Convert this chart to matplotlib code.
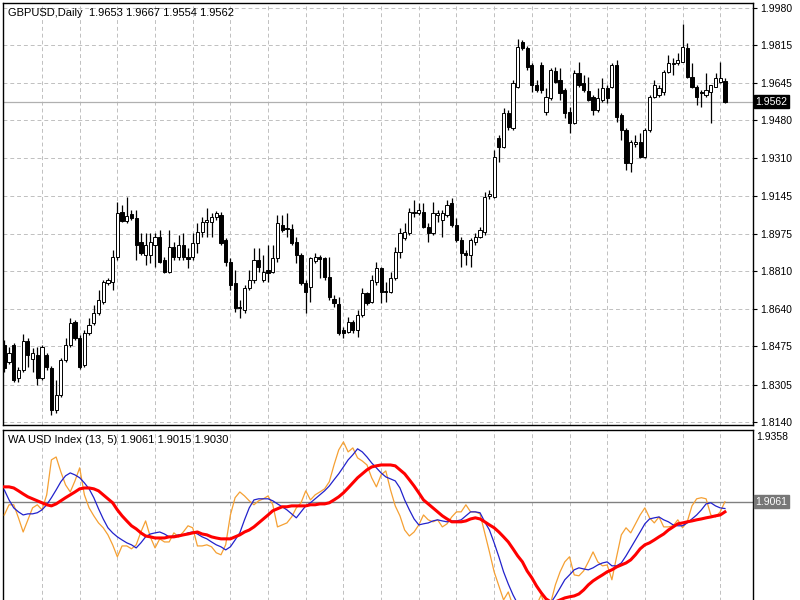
import numpy as np
import matplotlib
matplotlib.use('Agg')
import matplotlib.pyplot as plt
import matplotlib.transforms as mtransforms

plt.rcParams['font.family'] = ['Liberation Sans', 'DejaVu Sans']

# GBPUSD daily candles
opens = [
    1.8481, 1.8406, 1.8481, 1.8335, 1.8370, 1.8499, 1.8419, 1.8437, 1.8335, 1.8437,
    1.8379, 1.8193, 1.8259, 1.8415, 1.8481, 1.8583, 1.8512, 1.8392, 1.8535, 1.8579,
    1.8623, 1.8672, 1.8756, 1.8761, 1.8872, 1.9072, 1.9032, 1.9063, 1.9045, 1.8938,
    1.8881, 1.8881, 1.8925, 1.8961, 1.8859, 1.8806, 1.8916, 1.8872, 1.8925, 1.8872,
    1.8872, 1.8934, 1.8983, 1.9027, 1.9027, 1.9050, 1.9058, 1.8947, 1.8850, 1.8756,
    1.8650, 1.8637, 1.8734, 1.8770, 1.8859, 1.8770, 1.8815, 1.8806, 1.8868, 1.9014,
    1.9001, 1.8996, 1.8938, 1.8881, 1.8756, 1.8739, 1.8854, 1.8872, 1.8868, 1.8783,
    1.8685, 1.8663, 1.8548, 1.8539, 1.8583, 1.8548, 1.8614, 1.8712, 1.8672, 1.8761,
    1.8823, 1.8721, 1.8717, 1.8779, 1.8894, 1.8956, 1.8978, 1.9067, 1.9067, 1.9072,
    1.9005, 1.8978, 1.9058, 1.9036, 1.9058, 1.9112, 1.9014, 1.8947, 1.8890, 1.8881,
    1.8938, 1.8961, 1.8983, 1.9143, 1.9138, 1.9400, 1.9360, 1.9511, 1.9445, 1.9627,
    1.9826, 1.9800, 1.9724, 1.9636, 1.9724, 1.9516, 1.9578, 1.9698, 1.9658, 1.9613,
    1.9516, 1.9467, 1.9689, 1.9644, 1.9609, 1.9582, 1.9525, 1.9569, 1.9622, 1.9627,
    1.9724, 1.9502, 1.9436, 1.9289, 1.9374, 1.9382, 1.9316, 1.9436, 1.9582, 1.9591,
    1.9605, 1.9693, 1.9729, 1.9733, 1.9738, 1.9800, 1.9671, 1.9627, 1.9605, 1.9591,
    1.9605, 1.9627, 1.9649, 1.9653]
highs = [
    1.8503, 1.8472, 1.8490, 1.8383, 1.8530, 1.8512, 1.8468, 1.8472, 1.8481, 1.8446,
    1.8388, 1.8326, 1.8423, 1.8512, 1.8601, 1.8592, 1.8526, 1.8548, 1.8601, 1.8659,
    1.8725, 1.8770, 1.8779, 1.8903, 1.9116, 1.9103, 1.9138, 1.9081, 1.9081, 1.8978,
    1.8978, 1.8978, 1.8978, 1.8992, 1.8872, 1.8992, 1.8938, 1.8969, 1.8978, 1.8912,
    1.8978, 1.9023, 1.9050, 1.9089, 1.9067, 1.9076, 1.9072, 1.8956, 1.8868, 1.8815,
    1.8681, 1.8748, 1.8815, 1.8912, 1.8912, 1.8881, 1.8925, 1.8925, 1.9058, 1.9058,
    1.9067, 1.9018, 1.8961, 1.8890, 1.8770, 1.8872, 1.8890, 1.8881, 1.8872, 1.8872,
    1.8703, 1.8694, 1.8561, 1.8605, 1.8592, 1.8637, 1.8734, 1.8717, 1.8792, 1.8850,
    1.8828, 1.8761, 1.8806, 1.8916, 1.9001, 1.9023, 1.9089, 1.9125, 1.9112, 1.9112,
    1.9023, 1.9116, 1.9081, 1.9081, 1.9125, 1.9134, 1.9045, 1.8961, 1.8903, 1.8956,
    1.8978, 1.9005, 1.9160, 1.9169, 1.9347, 1.9414, 1.9533, 1.9525, 1.9658, 1.9840,
    1.9835, 1.9809, 1.9733, 1.9658, 1.9738, 1.9622, 1.9711, 1.9716, 1.9711, 1.9622,
    1.9538, 1.9702, 1.9738, 1.9680, 1.9671, 1.9591, 1.9622, 1.9667, 1.9636, 1.9733,
    1.9747, 1.9511, 1.9445, 1.9391, 1.9414, 1.9422, 1.9445, 1.9591, 1.9658, 1.9636,
    1.9702, 1.9769, 1.9755, 1.9778, 1.9906, 1.9822, 1.9733, 1.9636, 1.9613, 1.9689,
    1.9636, 1.9689, 1.9738, 1.9667]
lows = [
    1.8361, 1.8397, 1.8317, 1.8317, 1.8361, 1.8383, 1.8361, 1.8304, 1.8326, 1.8370,
    1.8170, 1.8179, 1.8250, 1.8406, 1.8472, 1.8503, 1.8375, 1.8383, 1.8526, 1.8570,
    1.8614, 1.8663, 1.8748, 1.8725, 1.8859, 1.9027, 1.9023, 1.9036, 1.8859, 1.8881,
    1.8837, 1.8845, 1.8828, 1.8845, 1.8801, 1.8801, 1.8859, 1.8859, 1.8859, 1.8823,
    1.8859, 1.8890, 1.8961, 1.8961, 1.8961, 1.9036, 1.8925, 1.8832, 1.8725, 1.8628,
    1.8601, 1.8623, 1.8725, 1.8756, 1.8806, 1.8761, 1.8761, 1.8801, 1.8850, 1.8983,
    1.8961, 1.8925, 1.8845, 1.8748, 1.8623, 1.8672, 1.8845, 1.8779, 1.8770, 1.8681,
    1.8650, 1.8526, 1.8512, 1.8535, 1.8535, 1.8517, 1.8605, 1.8659, 1.8668, 1.8748,
    1.8668, 1.8672, 1.8712, 1.8770, 1.8868, 1.8947, 1.8969, 1.9050, 1.9058, 1.9001,
    1.8938, 1.8969, 1.9027, 1.8961, 1.9050, 1.9005, 1.8938, 1.8828, 1.8837, 1.8828,
    1.8925, 1.8956, 1.8969, 1.9129, 1.9134, 1.9294, 1.9356, 1.9436, 1.9436, 1.9622,
    1.9791, 1.9702, 1.9605, 1.9605, 1.9600, 1.9502, 1.9569, 1.9644, 1.9569, 1.9489,
    1.9422, 1.9462, 1.9627, 1.9605, 1.9565, 1.9502, 1.9516, 1.9560, 1.9556, 1.9622,
    1.9471, 1.9391, 1.9258, 1.9249, 1.9360, 1.9312, 1.9312, 1.9427, 1.9578, 1.9582,
    1.9591, 1.9689, 1.9680, 1.9724, 1.9738, 1.9667, 1.9622, 1.9547, 1.9538, 1.9582,
    1.9467, 1.9627, 1.9644, 1.9554]
closes = [
    1.8379, 1.8446, 1.8326, 1.8370, 1.8499, 1.8437, 1.8446, 1.8335, 1.8472, 1.8383,
    1.8193, 1.8259, 1.8415, 1.8481, 1.8579, 1.8512, 1.8383, 1.8535, 1.8570, 1.8623,
    1.8681, 1.8761, 1.8770, 1.8872, 1.9067, 1.9032, 1.9054, 1.9045, 1.8925, 1.8890,
    1.8925, 1.8938, 1.8961, 1.8850, 1.8806, 1.8916, 1.8872, 1.8925, 1.8872, 1.8863,
    1.8934, 1.8983, 1.9027, 1.9036, 1.9050, 1.9067, 1.8934, 1.8850, 1.8748, 1.8645,
    1.8645, 1.8734, 1.8770, 1.8859, 1.8828, 1.8806, 1.8801, 1.8868, 1.9023, 1.8992,
    1.8996, 1.8934, 1.8881, 1.8756, 1.8717, 1.8868, 1.8872, 1.8863, 1.8783, 1.8694,
    1.8668, 1.8535, 1.8535, 1.8583, 1.8548, 1.8614, 1.8712, 1.8668, 1.8770, 1.8823,
    1.8717, 1.8717, 1.8779, 1.8894, 1.8978, 1.8983, 1.9072, 1.9072, 1.9081, 1.9005,
    1.8978, 1.9067, 1.9067, 1.9067, 1.9103, 1.9014, 1.8947, 1.8890, 1.8881, 1.8947,
    1.8961, 1.8992, 1.9138, 1.9152, 1.9316, 1.9360, 1.9511, 1.9449, 1.9644, 1.9804,
    1.9800, 1.9716, 1.9636, 1.9613, 1.9613, 1.9582, 1.9702, 1.9649, 1.9600, 1.9511,
    1.9467, 1.9689, 1.9636, 1.9613, 1.9569, 1.9525, 1.9578, 1.9622, 1.9578, 1.9724,
    1.9494, 1.9436, 1.9289, 1.9382, 1.9382, 1.9316, 1.9436, 1.9582, 1.9636, 1.9622,
    1.9693, 1.9733, 1.9733, 1.9747, 1.9804, 1.9671, 1.9627, 1.9582, 1.9600, 1.9613,
    1.9636, 1.9667, 1.9667, 1.9562]

# WA USD Index (13, 5) lines
wa_orange = [
    1.9001, 1.9047, 1.9047, 1.8988, 1.8924, 1.8979, 1.9033, 1.9047, 1.9024, 1.9092,
    1.9250, 1.9263, 1.9196, 1.9137, 1.9105, 1.9155, 1.9214, 1.9092, 1.9033, 1.8997,
    1.8965, 1.8943, 1.8911, 1.8866, 1.8812, 1.8861, 1.8861, 1.8848, 1.8866, 1.8924,
    1.8974, 1.8902, 1.8852, 1.8893, 1.8879, 1.8879, 1.8920, 1.8902, 1.8924, 1.8952,
    1.8943, 1.8861, 1.8861, 1.8866, 1.8857, 1.8830, 1.8821, 1.8866, 1.9001, 1.9079,
    1.9105, 1.9087, 1.9065, 1.9047, 1.9065, 1.9074, 1.9087, 1.9047, 1.8947, 1.8956,
    1.8965, 1.8992, 1.9033, 1.9056, 1.9110, 1.9069, 1.9092, 1.9105, 1.9119, 1.9151,
    1.9227, 1.9295, 1.9331, 1.9286, 1.9304, 1.9259, 1.9245, 1.9227, 1.9169, 1.9128,
    1.9182, 1.9200, 1.9114, 1.9042, 1.8997, 1.8933, 1.8906, 1.8924, 1.8956, 1.9001,
    1.8979, 1.8970, 1.8979, 1.8947, 1.8961, 1.8992, 1.9015, 1.9015, 1.9047, 1.9015,
    1.9015, 1.9006, 1.8920, 1.8834, 1.8744, 1.8680, 1.8617, 1.8653, 1.8590, 1.8549,
    1.8527, 1.8504, 1.8549, 1.8594, 1.8640, 1.8572, 1.8603, 1.8685, 1.8744, 1.8789,
    1.8812, 1.8730, 1.8726, 1.8748, 1.8789, 1.8834, 1.8789, 1.8771, 1.8775, 1.8708,
    1.8812, 1.8911, 1.8943, 1.8920, 1.8961, 1.9001, 1.9033, 1.8988, 1.8965, 1.8992,
    1.8947, 1.8947, 1.8952, 1.8979, 1.8943, 1.8970, 1.9042, 1.9074, 1.9079, 1.9074,
    1.9001, 1.8992, 1.9015, 1.9061]
wa_blue = [
    1.9114, 1.9069, 1.9033, 1.9015, 1.9001, 1.9006, 1.9006, 1.9011, 1.9024, 1.9047,
    1.9079, 1.9114, 1.9151, 1.9178, 1.9191, 1.9182, 1.9169, 1.9146, 1.9119, 1.9079,
    1.9029, 1.8983, 1.8943, 1.8920, 1.8902, 1.8888, 1.8875, 1.8866, 1.8852, 1.8875,
    1.8902, 1.8915, 1.8920, 1.8924, 1.8915, 1.8902, 1.8906, 1.8911, 1.8911, 1.8920,
    1.8924, 1.8915, 1.8902, 1.8893, 1.8879, 1.8866, 1.8857, 1.8843, 1.8857, 1.8888,
    1.8920, 1.8979, 1.9033, 1.9069, 1.9074, 1.9074, 1.9074, 1.9065, 1.9051, 1.9038,
    1.9024, 1.9006, 1.8988, 1.9015, 1.9042, 1.9056, 1.9074, 1.9092, 1.9110, 1.9132,
    1.9160, 1.9187, 1.9218, 1.9250, 1.9273, 1.9300, 1.9286, 1.9263, 1.9236, 1.9214,
    1.9191, 1.9173, 1.9164, 1.9155, 1.9123, 1.9069, 1.9024, 1.8983, 1.8956, 1.8961,
    1.8965, 1.8974, 1.8979, 1.8974, 1.8970, 1.8974, 1.8974, 1.8979, 1.8997, 1.9015,
    1.9015, 1.9011, 1.8970, 1.8933, 1.8875, 1.8812, 1.8744, 1.8689, 1.8640, 1.8599,
    1.8567, 1.8540, 1.8527, 1.8531, 1.8549, 1.8576, 1.8603, 1.8635, 1.8671, 1.8708,
    1.8730, 1.8753, 1.8762, 1.8757, 1.8753, 1.8762, 1.8775, 1.8784, 1.8789, 1.8771,
    1.8771, 1.8784, 1.8816, 1.8852, 1.8888, 1.8924, 1.8961, 1.8983, 1.8988, 1.8992,
    1.8979, 1.8970, 1.8956, 1.8952, 1.8952, 1.8965, 1.8983, 1.9001, 1.9024, 1.9051,
    1.9056, 1.9042, 1.9033, 1.9030]
wa_red = [
    1.9128, 1.9128, 1.9123, 1.9110, 1.9096, 1.9083, 1.9074, 1.9065, 1.9056, 1.9047,
    1.9042, 1.9051, 1.9065, 1.9079, 1.9092, 1.9105, 1.9119, 1.9123, 1.9123, 1.9119,
    1.9110, 1.9092, 1.9074, 1.9056, 1.9024, 1.8997, 1.8974, 1.8952, 1.8938, 1.8920,
    1.8906, 1.8902, 1.8897, 1.8897, 1.8897, 1.8902, 1.8902, 1.8906, 1.8911, 1.8915,
    1.8920, 1.8924, 1.8915, 1.8911, 1.8902, 1.8897, 1.8893, 1.8893, 1.8893, 1.8902,
    1.8911, 1.8924, 1.8933, 1.8947, 1.8965, 1.8983, 1.9001, 1.9020, 1.9029, 1.9038,
    1.9038, 1.9042, 1.9042, 1.9042, 1.9042, 1.9047, 1.9047, 1.9051, 1.9051, 1.9056,
    1.9069, 1.9083, 1.9101, 1.9123, 1.9146, 1.9169, 1.9187, 1.9205, 1.9218, 1.9223,
    1.9227, 1.9227, 1.9227, 1.9223, 1.9205, 1.9187, 1.9160, 1.9132, 1.9101, 1.9069,
    1.9051, 1.9033, 1.9015, 1.8997, 1.8983, 1.8970, 1.8970, 1.8970, 1.8974, 1.8983,
    1.8988, 1.8983, 1.8970, 1.8956, 1.8943, 1.8924, 1.8902, 1.8879, 1.8848, 1.8816,
    1.8789, 1.8748, 1.8717, 1.8680, 1.8649, 1.8622, 1.8608, 1.8608, 1.8617, 1.8626,
    1.8631, 1.8635, 1.8644, 1.8662, 1.8685, 1.8703, 1.8717, 1.8730, 1.8744, 1.8753,
    1.8766, 1.8775, 1.8784, 1.8798, 1.8821, 1.8848, 1.8866, 1.8875, 1.8888, 1.8902,
    1.8915, 1.8933, 1.8947, 1.8961, 1.8965, 1.8970, 1.8974, 1.8979, 1.8983, 1.8988,
    1.8992, 1.8997, 1.9001, 1.9015]

price_ticks = [1.8140, 1.8305, 1.8475, 1.8640, 1.8810, 1.8975,
               1.9145, 1.9310, 1.9480, 1.9645, 1.9815, 1.9980]
ind_ticks = [1.9358]

o = np.array(opens)
h = np.array(highs)
l = np.array(lows)
c = np.array(closes)
n = len(c)
x = np.arange(n)

grid_kw = dict(color='#c0c0c0', linestyle=(0, (4, 3)), linewidth=0.7)

fig = plt.figure(figsize=(8, 6), dpi=100)
ax = fig.add_axes([3 / 800, 1 - 425 / 600, 750 / 800, 422 / 600])
ax2 = fig.add_axes([3 / 800, -30 / 600, 750 / 800, 200 / 600])

for a in (ax, ax2):
    a.set_xlim(-0.28, 158.96)
    a.set_xticks(np.arange(8, n, 8))
    a.tick_params(axis='x', length=0, labelbottom=False)
    a.yaxis.tick_right()
    a.tick_params(axis='y', direction='out', length=3, width=0.8,
                  labelsize=7.5, pad=2)
    a.set_axisbelow(True)
    for s in a.spines.values():
        s.set_color('black')
        s.set_linewidth(1)

# price panel
ax.set_ylim(1.8126, 2.0000)
ax.set_yticks(price_ticks)
ax.set_yticklabels([f'{t:.4f}' for t in price_ticks])
ax.grid(True, **grid_kw)

up = c >= o
body_bot = np.minimum(o, c)
body_h = np.maximum(np.abs(c - o), 0.00025)
ax.vlines(x, l, h, color='black', linewidth=0.9, zorder=2)
ax.bar(x, body_h, bottom=body_bot, width=0.68,
       color=np.where(up, 'white', 'black'), edgecolor='black',
       linewidth=0.7, zorder=3)

ax.axhline(c[-1], color='#b0b0b0', linewidth=0.9, zorder=1)
tr = mtransforms.blended_transform_factory(ax.transAxes, ax.transData)
ax.text(1.0035, c[-1], f'{c[-1]:.4f}', transform=tr, ha='left', va='center',
        fontsize=7.5, color='white',
        bbox=dict(facecolor='black', edgecolor='black', pad=1.2))
ax.text(0.0067, 0.987, 'GBPUSD,Daily  %.4f %.4f %.4f %.4f' % (o[-1], h[-1], l[-1], c[-1]),
        transform=ax.transAxes, ha='left', va='top', fontsize=8)

# indicator panel
ax2.set_ylim(1.8481, 1.9385)
ax2.set_yticks(ind_ticks)
ax2.set_yticklabels([f'{t:.4f}' for t in ind_ticks])
ax2.tick_params(axis='y', length=0)
ax2.grid(True, axis='x', **grid_kw)
ax2.plot(x, wa_orange, color='#f5a033', linewidth=0.9, zorder=3)
ax2.plot(x, wa_blue, color='#2222cc', linewidth=0.9, zorder=4)
ax2.plot(x, wa_red, color='#ff0000', linewidth=2.2, zorder=5)
ax2.axhline(wa_orange[-1], color='#808080', linewidth=1, zorder=2)
tr2 = mtransforms.blended_transform_factory(ax2.transAxes, ax2.transData)
ax2.text(1.0035, wa_orange[-1], f'{wa_orange[-1]:.4f}', transform=tr2,
         ha='left', va='center', fontsize=7.5, color='white',
         bbox=dict(facecolor='#777777', edgecolor='#777777', pad=1.2))
ax2.text(0.0067, 0.975, 'WA USD Index (13, 5) %.4f %.4f %.4f'
         % (wa_orange[-1], wa_red[-1], wa_blue[-1]),
         transform=ax2.transAxes, ha='left', va='top', fontsize=8)

fig.savefig('out.png', dpi=100)
